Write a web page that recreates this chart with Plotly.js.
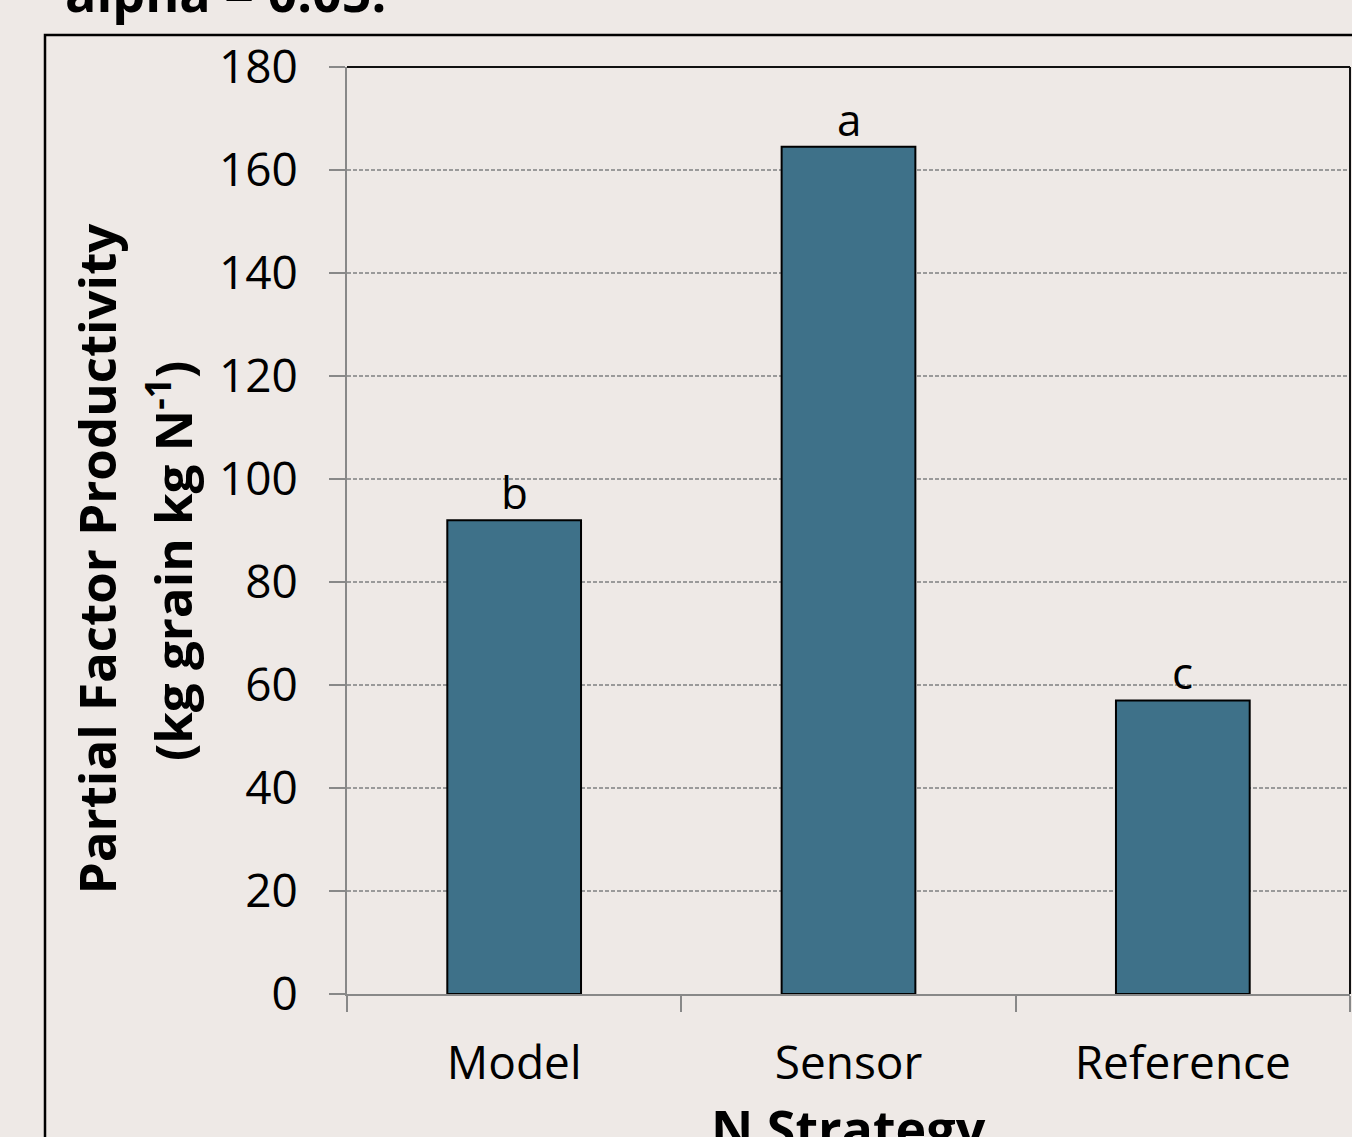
<!DOCTYPE html>
<html>
<head>
<meta charset="utf-8">
<script src="https://cdn.plot.ly/plotly-3.0.1.min.js"></script>
<style>
  html, body { margin: 0; padding: 0; background: #EEE9E6; }
  #chart { width: 1352px; height: 1137px; }
</style>
</head>
<body>
<div id="chart"></div>
<script>
// N strategies compared and their partial factor productivity
const strategies = ["Model", "Sensor", "Reference"];
const pfpValues = [92, 164.5, 57];
const groupLetters = ["b", "a", "c"];
const yTickValues = [0, 20, 40, 60, 80, 100, 120, 140, 160, 180];

const FONT = "Open Sans, Lato, sans-serif";
const BG = "#EEE9E6";

const trace = {
  type: "bar",
  x: strategies,
  y: pfpValues,
  width: 0.4,
  marker: { color: "#3E7189", line: { color: "#000", width: 2 } },
  hoverinfo: "x+y"
};

// significance letters sitting just above each bar
const letterAnnotations = strategies.map((s, i) => ({
  x: s, y: pfpValues[i], xref: "x", yref: "y",
  text: groupLetters[i], showarrow: false,
  yanchor: "bottom", yshift: -4,
  font: { family: FONT, size: 44, color: "#000" }
}));

const layout = {
  width: 1352,
  height: 1137,
  paper_bgcolor: BG,
  plot_bgcolor: BG,
  margin: { l: 347, r: 2, t: 67, b: 143 },
  showlegend: false,
  font: { family: FONT, color: "#000" },
  xaxis: {
    type: "category",
    tickson: "boundaries",
    ticks: "outside",
    ticklen: 16,
    tickwidth: 2,
    tickcolor: "#888",
    showline: true,
    linecolor: "#888",
    linewidth: 2,
    showgrid: false,
    tickfont: { family: FONT, size: 46, color: "#000" },
    ticklabelstandoff: 28
  },
  yaxis: {
    range: [0, 180],
    tickvals: yTickValues,
    ticks: "outside",
    ticklen: 16,
    tickwidth: 2,
    tickcolor: "#888",
    showline: true,
    linecolor: "#888",
    linewidth: 2,
    showgrid: true,
    gridcolor: "#9a9a9a",
    gridwidth: 1.5,
    griddash: "4px,2px",
    zeroline: false,
    tickfont: { family: FONT, size: 46, color: "#000" },
    ticklabelstandoff: 22
  },
  shapes: [
    // outer frame around the chart
    { type: "rect", xref: "paper", yref: "paper", layer: "above",
      x0: -302 / 1003, x1: 1.2, y0: -0.2, y1: 1 + 32 / 927,
      line: { color: "#000", width: 2.5 } },
    // top and right border of the plot area
    { type: "line", xref: "paper", yref: "paper", x0: 0, x1: 1, y0: 1, y1: 1,
      line: { color: "#111", width: 2 } },
    { type: "line", xref: "paper", yref: "paper", x0: 1, x1: 1, y0: 0, y1: 1,
      line: { color: "#111", width: 2 } }
  ],
  annotations: letterAnnotations.concat([
    { text: "<b>Partial Factor Productivity</b>", xref: "paper", yref: "paper",
      x: 0, y: 0.47, xshift: -251, xanchor: "center", yanchor: "middle",
      textangle: -90, showarrow: false,
      font: { family: FONT, size: 51, color: "#000" } },
    { text: "<b>(kg grain kg N<sup>-1</sup>)</b>", xref: "paper", yref: "paper",
      x: 0, y: 0.467, xshift: -177, xanchor: "center", yanchor: "middle",
      textangle: -90, showarrow: false,
      font: { family: FONT, size: 51, color: "#000" } },
    { text: "<b>N Strategy</b>", xref: "paper", yref: "paper",
      x: 0.5, y: 0, yshift: -96, yanchor: "top", showarrow: false,
      font: { family: FONT, size: 52, color: "#000" } },
    { text: "<b>alpha = 0.05.</b>", xref: "paper", yref: "paper",
      x: 0, y: 1, xshift: -284, yshift: 38, xanchor: "left", yanchor: "bottom",
      showarrow: false,
      font: { family: FONT, size: 52, color: "#000" } }
  ])
};

Plotly.newPlot("chart", [trace], layout, { displayModeBar: false, staticPlot: true });
</script>
</body>
</html>
